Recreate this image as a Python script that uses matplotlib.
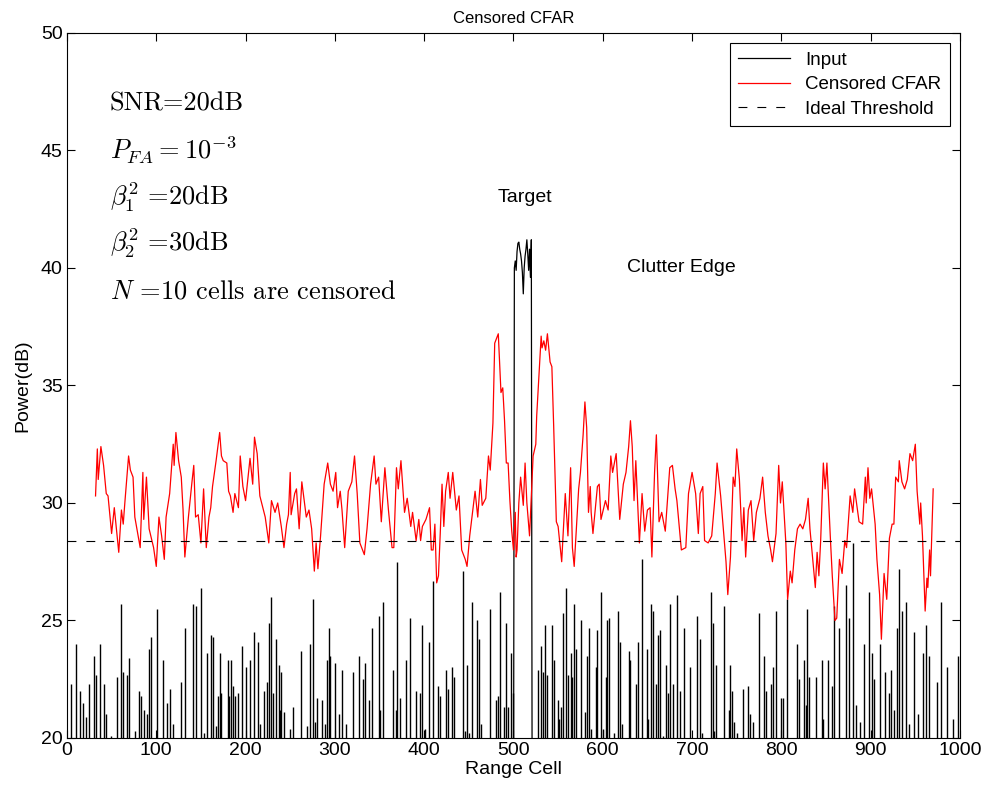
import matplotlib
matplotlib.use("Agg")
import matplotlib.pyplot as plt
from matplotlib.lines import Line2D

plt.rcParams['font.family'] = ['Liberation Sans', 'DejaVu Sans']
plt.rcParams['mathtext.fontset'] = 'cm'

# input samples that rise above the 20 dB bottom of the axis (range cell, dB)
spike_cells = [4, 10, 15, 18, 21, 25, 30, 33, 37, 41, 44, 49, 56, 61, 63, 67, 69, 76, 81, 83, 86, 90,
               92, 94, 101, 107, 112, 115, 119, 128, 132, 141, 145, 150, 153, 157, 161, 163, 167, 169,
               171, 173, 180, 182,
               184, 186, 188, 191, 196, 201, 205, 209, 214, 216, 221, 224, 226, 228, 231, 234, 237,
               238, 240, 243, 250, 253, 262, 269, 272, 276, 278, 280, 286, 289, 291, 293, 294, 300,
               305, 308, 312, 320, 327, 331, 334, 338, 342, 349, 351, 354,
               365, 368, 370, 373, 380, 384, 391, 395, 398, 401, 405, 410, 416, 418, 424, 427, 431,
               433, 443, 446, 448, 450, 454, 459, 461, 464, 474, 480, 483, 485, 489, 492, 494, 497, 499,
               527, 531, 533, 535, 537, 543, 545, 550, 551, 553, 556, 559, 561, 564, 566, 568, 570,
               576, 580, 582, 585, 587, 592, 594, 598, 600, 604, 605, 607, 613, 617, 619, 621, 629,
               631, 637, 639, 644, 649, 651, 654, 656, 660, 662, 664, 667, 671, 673, 675, 679, 683,
               687, 691, 698, 705, 709, 711,
               721, 723, 725, 727, 736, 741, 743, 745, 747, 750, 757, 763, 765, 768, 775, 780, 783,
               788, 791, 794, 800, 802, 806, 817, 820, 825, 828, 829, 831, 839, 845, 847, 852, 857,
               859, 864, 872, 876, 880, 884, 888, 893, 898,
               902, 904, 910, 916, 920, 923, 926, 929, 932, 935, 940, 943, 949, 953, 959, 962, 965,
               974, 979, 986, 992, 998]
spike_db = [22.3, 24.0, 22.0, 21.5, 20.9, 22.3, 23.5, 22.7, 24.0, 22.3, 21.0, 20.1, 22.6, 25.7, 22.8, 22.7, 23.4, 20.3, 22.0, 21.8, 21.2, 21.0,
            23.8, 24.3, 25.5, 23.3, 21.5, 22.1, 20.6, 22.4, 24.7, 25.7, 25.6, 26.4, 20.2, 23.6, 24.4, 24.3, 20.5, 21.8,
            23.6, 21.9, 23.3, 21.8,
            23.3, 22.2, 21.8, 21.9, 23.9, 23.0, 23.3, 24.5, 24.1, 20.6, 22.0, 22.4, 24.9, 26.0, 21.9, 24.2, 23.1,
            21.2, 22.8, 21.1, 20.4, 21.3, 23.7, 20.5, 24.0, 25.9, 20.7, 21.7, 21.6, 20.6, 23.3, 24.7, 23.5, 23.2,
            21.0, 22.9, 20.6, 22.8, 23.5, 22.5, 23.2, 21.6, 24.7, 25.2, 21.2, 25.8,
            22.9, 21.2, 27.5, 21.7, 23.3, 25.1, 22.0, 21.9, 24.8, 20.4, 24.1, 26.7, 22.2, 21.8, 22.9, 22.1, 23.0,
            22.6, 27.1, 20.3, 23.1, 20.2, 25.8, 25.0, 24.2, 20.6, 25.5, 21.6, 21.8, 26.2, 21.3, 24.9, 21.3, 23.6, 21.9,
            22.9, 23.9, 22.8, 24.8, 22.7, 24.8, 23.3, 21.6, 20.8, 21.3, 25.3, 26.4, 22.7, 23.6, 22.6, 25.7, 23.8,
            25.0, 21.1, 23.5, 24.7, 20.4, 23.0, 24.6, 26.2, 20.4, 22.6, 25.0, 25.1, 20.2, 25.4, 24.1, 20.6, 23.7,
            23.3, 22.3, 24.1, 27.6, 23.8, 20.8, 25.7, 25.4, 22.3, 24.4, 24.6, 20.1, 23.1, 21.9, 25.7, 22.3, 26.1,
            22.0, 24.7, 23.0, 25.2, 24.2, 20.2,
            26.2, 24.9, 20.3, 23.1, 25.6, 21.2, 23.1, 22.0, 20.7, 20.2, 22.1, 22.2, 21.0, 20.7, 25.3, 23.5, 22.0,
            22.3, 23.0, 25.4, 21.7, 21.7, 25.9, 24.0, 22.5, 23.3, 21.4, 25.5, 22.6, 22.6, 23.3, 20.8, 23.3, 22.2,
            25.6, 24.7, 26.5, 25.1, 28.3, 21.4, 20.7, 24.0, 26.2,
            23.6, 22.5, 24.0, 22.8, 21.9, 22.9, 21.2, 24.7, 27.2, 25.4, 25.8, 20.6, 24.5, 21.0, 23.6, 24.8, 23.5,
            22.4, 25.8, 23.0, 20.8, 23.5]

# the target run of the input (cells 500 and 521 are below the axis)
target_cells = [500, 501, 502, 503, 504, 505, 506, 507, 508, 509, 510,
                511, 512, 513, 514, 515, 516, 517, 518, 519, 520, 521]
target_db = [15.0, 40.0, 40.3, 39.9, 40.7, 41.05, 41.1, 40.8, 40.6, 40.3, 39.8,
             38.9, 40.0, 40.5, 40.8, 41.2, 40.6, 39.9, 40.8, 39.6, 41.2, 15.0]

# censored CFAR threshold
cfar_cells = [32, 34, 35, 38, 41, 44, 46, 50, 53, 58, 61, 63, 65, 69, 71, 74, 76, 82, 85, 86, 89, 92,
              97, 100, 103, 106, 109, 111, 115, 119, 120, 122, 125, 128, 130, 132, 136, 140, 142, 144,
              147, 150, 153, 156, 159, 161, 163, 167, 171, 173,
              175, 179, 181, 183, 186, 188, 192, 194, 197, 200, 205, 208, 210, 213, 216, 222, 226, 229,
              233, 236, 240, 243, 246, 248, 250, 251, 255, 257, 260, 263, 268, 271, 274, 277, 279, 281,
              284, 288, 292, 295, 298, 301, 303, 306, 308, 311, 315, 319, 322, 325, 328, 333, 336, 340,
              344, 346, 349, 352, 356,
              360, 364, 366, 369, 371, 374, 378, 381, 385, 387, 391, 394, 396, 398, 402, 406, 408, 410,
              412, 414, 416, 418, 420, 422, 424, 427, 429, 432, 436, 439, 442, 446, 448, 451, 457, 460,
              463, 465, 469, 472, 474, 477, 479, 483, 486, 488, 490, 492, 494, 496, 498, 500, 502, 503,
              504, 506, 508, 511, 513, 515, 518, 520, 522, 525, 526, 529, 531, 532, 534, 536, 538, 541,
              543, 545, 548, 550, 554, 558, 561, 564, 566, 568, 573, 575, 578, 580, 582, 584, 586, 587,
              589, 594, 596, 598, 603, 606, 609, 611, 615, 619, 623, 626, 629, 631, 633, 635, 637, 641,
              644, 647, 650, 653, 655, 658, 660, 663, 666, 670, 675, 678, 681, 683, 688, 693, 696, 700,
              704, 707, 709, 712, 714, 718,
              722, 726, 728, 732, 735, 738, 740, 743, 746, 748, 750, 753, 756, 758, 760, 763, 766, 769,
              772, 776, 779, 782, 785, 788, 790, 794, 797, 799, 801, 805, 807, 810, 812, 815, 818, 821,
              824, 827, 830, 832, 838, 840, 842, 844, 847, 849, 851, 855, 857, 860, 862, 865, 868, 871,
              873, 877, 880, 882, 887, 891, 894, 895, 897,
              899, 901, 905, 907, 910, 912, 915, 918, 921, 924, 926, 928, 931, 932, 935, 938, 941, 944,
              947, 950, 952, 955, 956, 958, 961, 963, 964, 966, 967, 970]
cfar_db = [30.3, 32.3, 31.0, 32.4, 31.6, 30.4, 30.3, 28.7, 29.8, 27.9, 29.7, 29.1, 30.1, 32.0, 31.4, 31.1, 29.4, 28.1, 31.3, 29.3, 31.1, 28.9,
           28.1, 27.3, 29.4, 28.6, 27.6, 29.4, 30.4, 32.5, 31.6, 33.0, 31.8, 31.1, 29.7, 27.7, 29.4, 30.9, 31.6, 29.4,
           29.5, 28.3, 30.6, 28.1, 29.4, 29.8, 30.7, 31.8, 33.0, 32.0,
           31.8, 31.7, 30.5, 30.3, 29.6, 30.4, 29.8, 32.0, 30.7, 30.1, 31.9, 30.8, 32.8, 32.1, 30.3, 29.4, 28.3, 30.1,
           29.6, 30.0, 29.0, 28.1, 29.1, 29.5, 31.3, 29.5, 30.4, 30.6, 28.9, 30.9, 29.4, 29.7, 28.9, 27.1, 28.3, 27.2,
           28.6, 30.8, 31.7, 30.8, 30.5, 31.3, 29.8, 30.5, 29.7, 28.1, 30.5, 30.9, 32.0, 30.4, 28.3, 27.8, 28.9, 30.8,
           32.0, 30.8, 31.1, 29.2, 31.5,
           29.7, 28.1, 28.1, 31.5, 30.6, 31.8, 29.6, 30.2, 29.0, 29.6, 28.4, 29.3, 28.4, 29.0, 29.3, 29.8, 28.0, 28.0,
           29.1, 26.6, 26.9, 28.7, 30.8, 29.0, 30.5, 31.3, 30.2, 31.3, 29.7, 30.3, 28.0, 27.6, 27.3, 28.6, 30.5, 29.4,
           31.0, 29.9, 30.2, 32.0, 31.4, 33.4, 36.8, 37.2, 34.7, 34.9, 33.5, 31.7, 31.7, 30.1, 28.85, 28.0, 29.6, 27.7,
           28.0, 30.0, 31.1, 29.9, 31.7, 30.0, 28.6, 30.3, 32.0, 32.5, 33.7, 35.7, 37.1, 36.6, 36.9, 36.5, 37.2, 36.0,
           35.8, 33.3, 29.2, 29.0, 27.5, 30.4, 28.6, 31.5, 28.1, 27.3, 30.6, 31.3, 32.9, 34.3, 33.2, 29.6, 30.7, 29.6,
           28.7, 30.7, 30.8, 29.3, 30.1, 29.7, 32.0, 31.3, 32.1, 29.3, 30.8, 31.3, 32.4, 33.5, 32.4, 30.1, 31.8, 28.3,
           30.4, 28.8, 29.7, 29.8, 27.7, 31.3, 32.9, 29.2, 29.6, 28.8, 31.5, 31.6, 30.6, 30.1, 28.0, 28.1, 30.4, 31.3,
           30.4, 28.7, 30.4, 30.7, 28.4, 28.3,
           28.6, 30.4, 31.7, 30.3, 28.9, 27.5, 26.1, 27.7, 31.1, 30.7, 32.3, 31.0, 28.4, 29.8, 27.7, 29.7, 30.1, 28.4,
           29.6, 30.2, 31.1, 29.6, 28.6, 28.0, 27.5, 28.7, 31.6, 30.0, 30.9, 28.3, 25.9, 27.1, 26.6, 28.0, 28.9, 29.1,
           28.9, 29.3, 30.2, 28.9, 26.4, 27.9, 26.9, 28.4, 31.7, 30.6, 31.7, 28.4, 26.9, 25.0, 25.1, 27.6, 27.0, 28.4,
           28.1, 30.3, 29.6, 30.6, 29.2, 29.1, 31.1, 30.0, 31.5,
           30.2, 30.6, 29.1, 27.6, 26.1, 24.2, 27.0, 25.9, 28.5, 29.1, 29.1, 31.1, 30.9, 31.8, 30.9, 30.6, 31.0, 32.1,
           31.8, 32.5, 30.5, 29.1, 30.0, 28.6, 25.4, 26.8, 26.4, 28.0, 26.9, 30.6]

threshold_db = 28.4

assert len(spike_cells) == len(spike_db)
assert len(cfar_cells) == len(cfar_db)
assert len(target_cells) == len(target_db)

fig = plt.figure(figsize=(9.95, 7.93), dpi=100)
ax = fig.add_axes([0.0673, 0.0694, 0.8975, 0.889])

ax.vlines(spike_cells, 15, spike_db, colors='black', lw=1.0)
ax.plot(target_cells, target_db, color='black', lw=0.9)
ax.plot(cfar_cells, cfar_db, color='red', lw=0.9)
ax.axhline(threshold_db, color='black', lw=0.8, dashes=(8, 9))

ax.set_xlim(0, 1000)
ax.set_ylim(20, 50)
ax.set_xticks(range(0, 1001, 100))
ax.set_yticks(range(20, 51, 5))
ax.tick_params(direction='in', top=True, right=True, labelsize=14, length=6, width=0.8, pad=3)
for s in ax.spines.values():
    s.set_linewidth(0.8)

ax.set_xlabel('Range Cell', fontsize=14, labelpad=1)
ax.set_ylabel('Power(dB)', fontsize=14, labelpad=7)
ax.set_title('Censored CFAR', fontsize=12, pad=7)

notes = ['SNR=20dB',
         r'$P_{FA}=10^{-3}$',
         r'$\beta_1^2$ =20dB',
         r'$\beta_2^2$ =30dB',
         r'$N$ =10 cells are censored']
note_y = [47.0, 45.0, 43.0, 41.05, 39.0]
for t, y in zip(notes, note_y):
    ax.text(48, y, t, fontsize=19, family='cmr10', va='center', ha='left')

ax.text(513, 43.0, 'Target', fontsize=14, ha='center', va='center')
ax.text(688, 40.0, 'Clutter Edge', fontsize=14, ha='center', va='center')

handles = [Line2D([], [], color='black', lw=0.9),
           Line2D([], [], color='red', lw=0.9),
           Line2D([], [], color='black', lw=0.8, dashes=(8, 9))]
leg = ax.legend(handles, ['Input', 'Censored CFAR', 'Ideal Threshold'], loc='upper right',
                fontsize=13.5, fancybox=False, edgecolor='black', framealpha=1,
                borderaxespad=0.55, handlelength=2.8, borderpad=0.44, labelspacing=0.4,
                handletextpad=0.8)
leg.get_frame().set_linewidth(0.8)

fig.savefig('out.png', dpi=100)
